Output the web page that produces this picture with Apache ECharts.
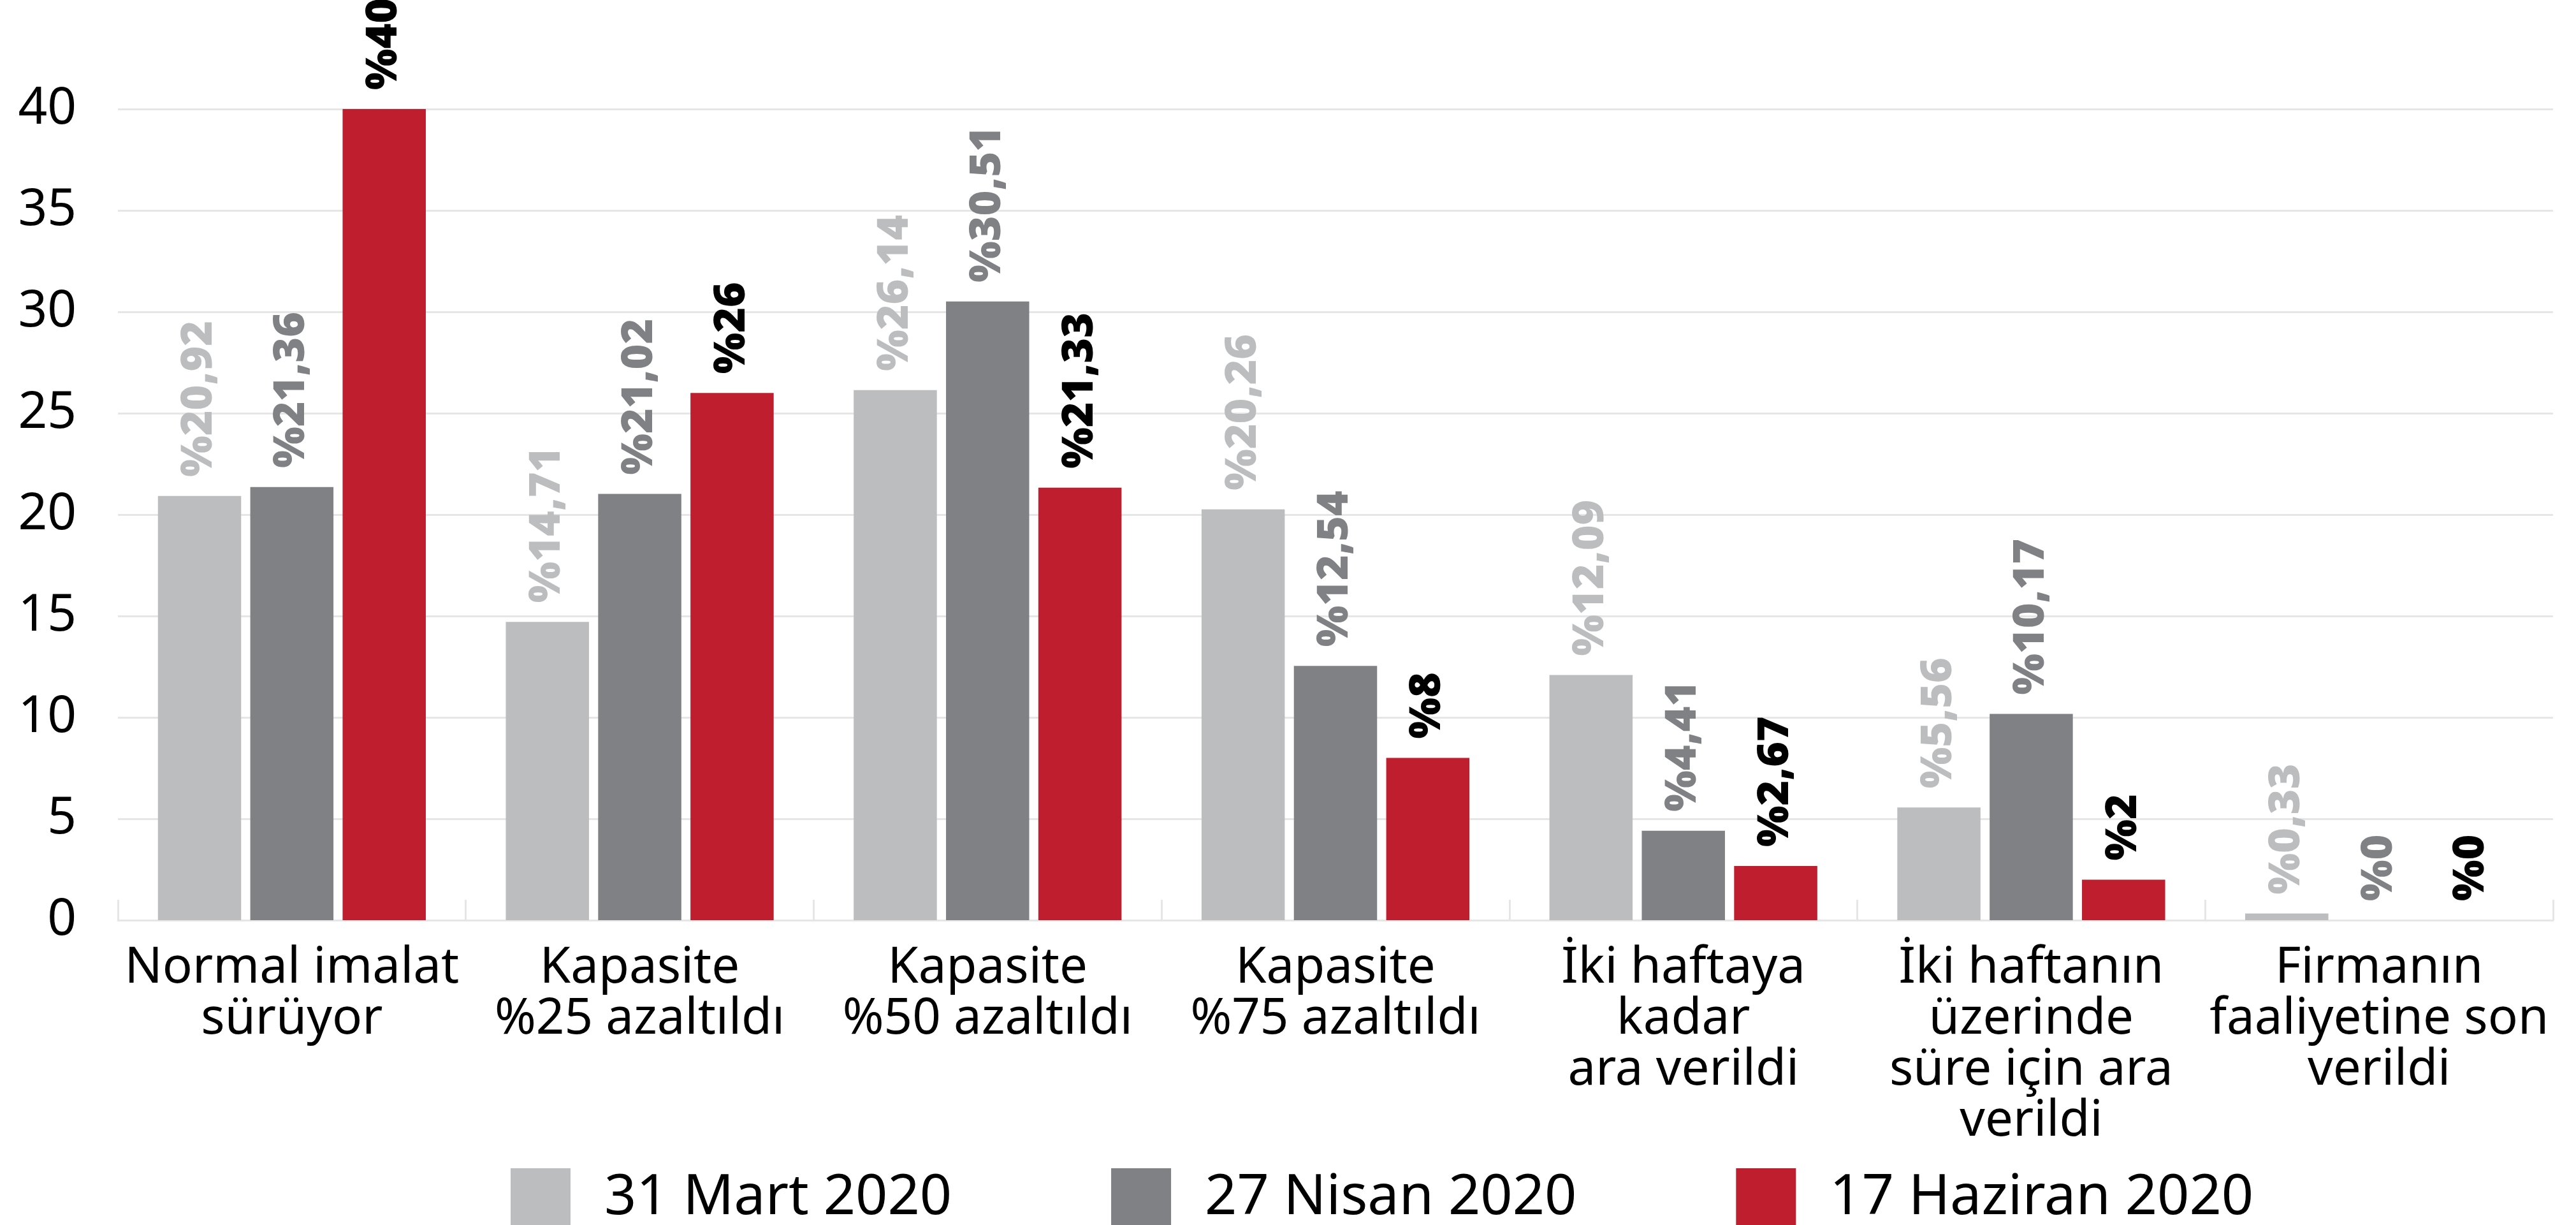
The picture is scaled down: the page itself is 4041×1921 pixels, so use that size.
<!DOCTYPE html>
<html>
<head>
<meta charset="utf-8">
<script src="https://cdn.jsdelivr.net/npm/echarts@6/dist/echarts.min.js"></script>
<style>
	html, body { margin: 0; padding: 0; background: #ffffff; }
	#chart { width: 4041px; height: 1921px; }
</style>
</head>
<body>
<div id="chart"></div>
<script>
	var categories = [
		'Normal imalat\nsürüyor',
		'Kapasite\n%25 azaltıldı',
		'Kapasite\n%50 azaltıldı',
		'Kapasite\n%75 azaltıldı',
		'İki haftaya\nkadar\nara verildi',
		'İki haftanın\nüzerinde\nsüre için ara\nverildi',
		'Firmanın\nfaaliyetine son\nverildi'
	];
	var seriesNames = ['31 Mart 2020', '27 Nisan 2020', '17 Haziran 2020'];
	var mart = [20.92, 14.71, 26.14, 20.26, 12.09, 5.56, 0.33];
	var nisan = [21.36, 21.02, 30.51, 12.54, 4.41, 10.17, 0];
	var haziran = [40, 26, 21.33, 8, 2.67, 2, 0];
	var yTicks = { min: 0, max: 40, interval: 5 };

	var barColors = ['#bcbdbf', '#808184', '#be1e2d'];
	var labelColors = ['#bcbdbf', '#808184', '#000000'];

	function makeSeries(i, data) {
		return {
			name: seriesNames[i],
			type: 'bar',
			data: data,
			barGap: '11%',
			barCategoryGap: '23%',
			itemStyle: { color: barColors[i] },
			label: {
				show: true,
				position: 'top',
				rotate: 90,
				align: 'left',
				verticalAlign: 'middle',
				distance: 30,
				fontFamily: 'Open Sans',
				fontWeight: 800,
				fontSize: 68,
				color: labelColors[i],
				formatter: function (p) {
					return '%' + String(p.value).replace('.', ',');
				}
			}
		};
	}

	var chart = echarts.init(document.getElementById('chart'));
	chart.setOption({
		animation: false,
		backgroundColor: '#ffffff',
		grid: { left: 185, right: 36, top: 171, bottom: 478 },
		legend: {
			left: 796,
			top: 1827,
			itemWidth: 94,
			itemHeight: 94,
			itemGap: 250,
			icon: 'rect',
			textStyle: {
				fontFamily: 'Noto Sans',
				fontSize: 88,
				lineHeight: 94,
				color: '#000000',
				padding: [0, 0, 0, 48]
			},
			data: seriesNames
		},
		xAxis: {
			type: 'category',
			data: categories,
			axisLine: { lineStyle: { color: '#e6e6e6', width: 3 } },
			axisTick: { show: true, inside: true, length: 32, lineStyle: { color: '#e6e6e6', width: 3 } },
			axisLabel: {
				interval: 0,
				margin: 36,
				fontFamily: 'Noto Sans',
				fontSize: 78,
				lineHeight: 80,
				color: '#000000'
			}
		},
		yAxis: {
			type: 'value',
			min: yTicks.min,
			max: yTicks.max,
			interval: yTicks.interval,
			axisLine: { show: false },
			axisTick: { show: false },
			splitLine: { lineStyle: { color: '#e6e6e6', width: 3 } },
			axisLabel: {
				margin: 65,
				fontFamily: 'Noto Sans',
				fontSize: 80,
				color: '#000000'
			}
		},
		series: [
			makeSeries(0, mart),
			makeSeries(1, nisan),
			makeSeries(2, haziran)
		]
	});
</script>
</body>
</html>
